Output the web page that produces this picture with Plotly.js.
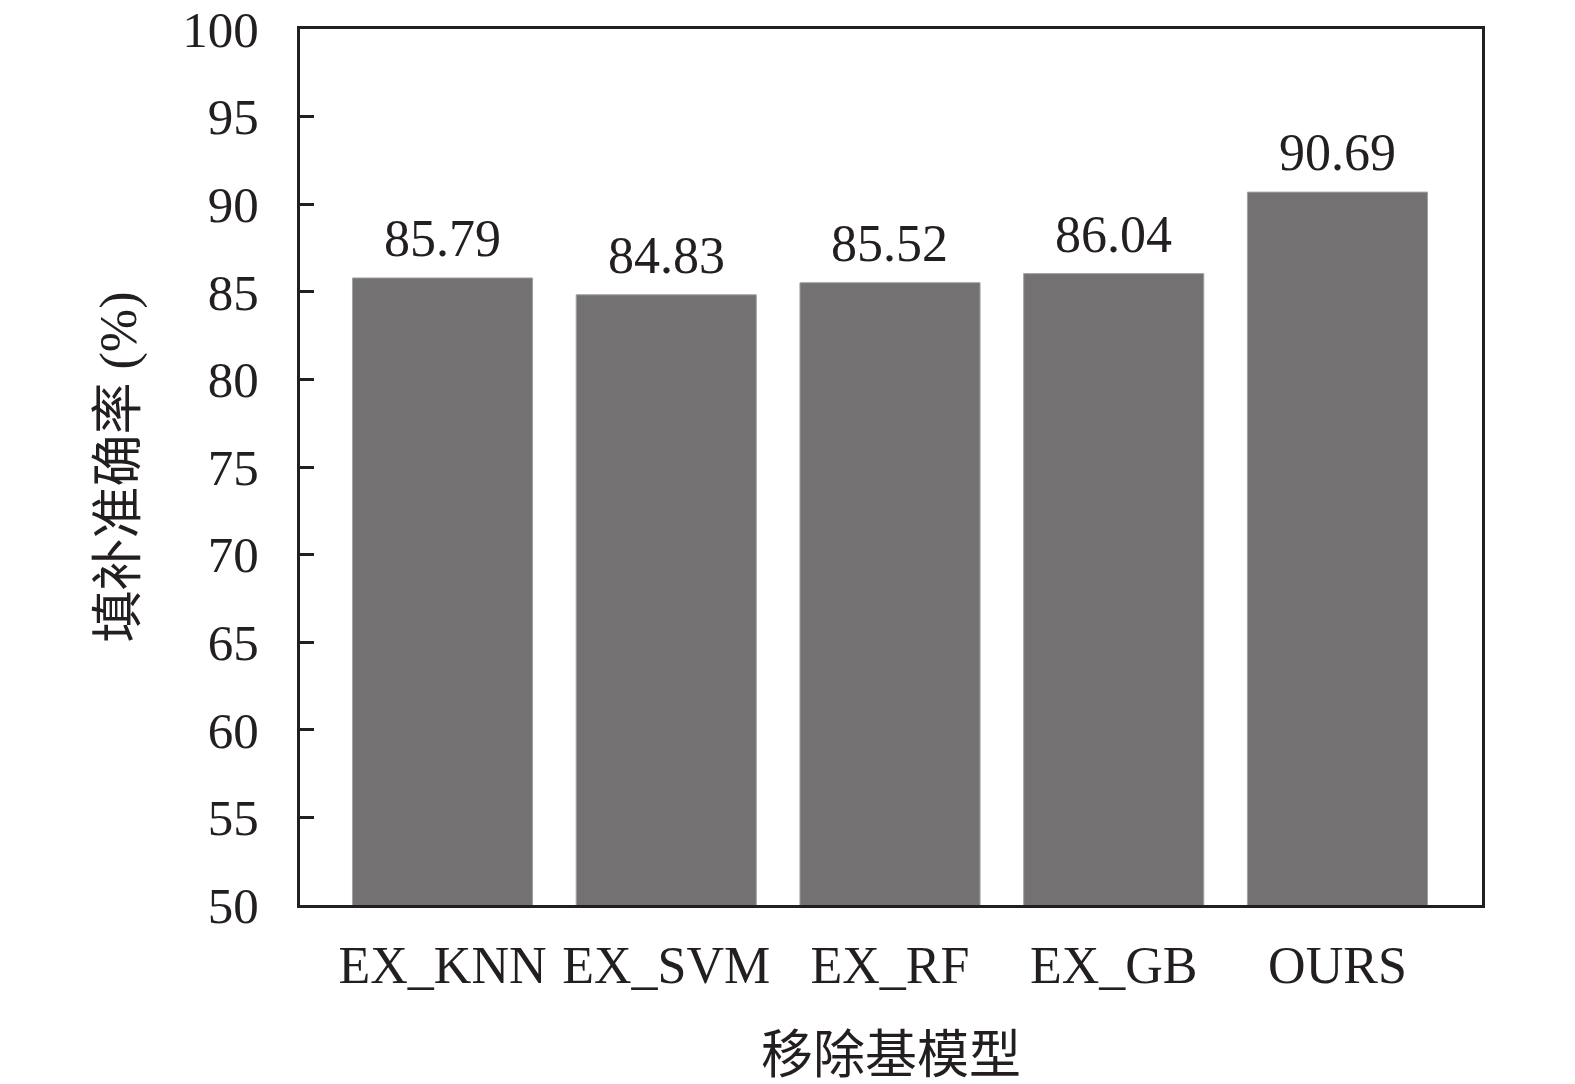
<!DOCTYPE html>
<html>
<head>
<meta charset="utf-8">
<script src="https://cdn.plot.ly/plotly-3.0.1.min.js"></script>
<style>html,body{margin:0;padding:0;background:#fff;}</style>
</head>
<body>
<div id="chart" style="width:1575px;height:1084px;"></div>
<script>
const categories = ["EX_KNN", "EX_SVM", "EX_RF", "EX_GB", "OURS"];
const accuracy = [85.79, 84.83, 85.52, 86.04, 90.69];
const valueLabels = ["85.79", "84.83", "85.52", "86.04", "90.69"];
const yTickValues = [50, 55, 60, 65, 70, 75, 80, 85, 90, 95, 100];
const xTitle = "移除基模型";
const yTitle = "填补准确率 (%)";

const FONT = "'Liberation Serif', 'Times New Roman', 'Noto Sans CJK SC', serif";
const INK = "#231f20";

const trace = {
  type: "bar",
  x: categories,
  y: accuracy,
  width: 0.805,
  marker: { color: "#737172", line: { color: "#a3a2a3", width: 1 } },
  hoverinfo: "x+y"
};

const annotations = categories.map((c, i) => ({
  x: c, y: accuracy[i], xref: "x", yref: "y",
  text: valueLabels[i], showarrow: false,
  yanchor: "bottom", yshift: 9,
  font: { family: FONT, size: 52, color: INK }
}));

const layout = {
  width: 1575, height: 1084,
  margin: { l: 300, r: 93, t: 29, b: 179 },
  paper_bgcolor: "#ffffff", plot_bgcolor: "#ffffff",
  font: { family: FONT, size: 50, color: INK },
  showlegend: false,
  xaxis: {
    type: "category",
    range: [-0.637, 4.646],
    showline: true, linecolor: INK, linewidth: 3, mirror: true,
    ticks: "", showgrid: false, zeroline: false,
    ticklabelstandoff: 13,
    tickfont: { family: FONT, size: 52, color: INK },
    title: { text: xTitle, standoff: 56, font: { family: FONT, size: 52, color: INK } },
    automargin: false, fixedrange: true
  },
  yaxis: {
    range: [50, 100],
    tickvals: yTickValues,
    ticktext: yTickValues.map(String),
    showline: true, linecolor: INK, linewidth: 3, mirror: true,
    ticks: "inside", ticklen: 14, tickwidth: 3, tickcolor: INK,
    showgrid: false, zeroline: false,
    ticklabelstandoff: 28,
    tickfont: { family: FONT, size: 51, color: INK },
    title: { text: yTitle, standoff: 30, font: { family: FONT, size: 52, color: INK } },
    automargin: false, fixedrange: true
  },
  annotations: annotations
};

Plotly.newPlot("chart", [trace], layout, { displayModeBar: false, staticPlot: true });
</script>
</body>
</html>
